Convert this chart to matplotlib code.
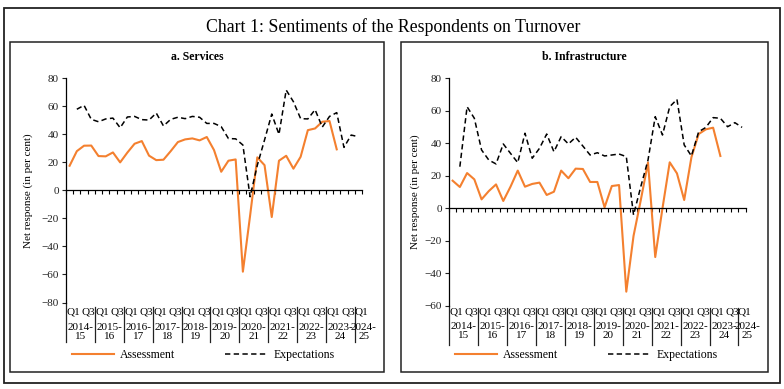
import matplotlib
matplotlib.use("Agg")
import matplotlib.pyplot as plt
import matplotlib.transforms as mtransforms
from matplotlib.patches import Rectangle
import numpy as np

plt.rcParams['font.family'] = ['Liberation Serif', 'DejaVu Serif']

# quarters: 2014-15 Q1 ... 2024-25 Q1 (41 quarters)
years = ["2014-\n15", "2015-\n16", "2016-\n17", "2017-\n18", "2018-\n19", "2019-\n20",
         "2020-\n21", "2021-\n22", "2022-\n23", "2023-\n24", "2024-\n25"]
n_q = 41

# Services: assessment from 2014-15 Q1, expectations from 2014-15 Q2
services_assess = [17.6, 28, 31.9, 32, 24.5, 24.3, 27.1, 20, 27, 33.3,
                   35.2, 24.8, 21.6, 21.9, 28, 34.5, 36.4, 37.1, 35.7, 38.1,
                   28.8, 13.3, 21.2, 22.1, -58, -18, 23.6, 18, -19, 21.2,
                   24.7, 15.5, 24, 43, 44.2, 49, 49.5, 29.3]
services_expect = [57.9, 60.7, 50.7, 49, 51, 51.6, 44.7, 52.4, 52.8, 50.5,
                   50.2, 55.2, 46, 50.7, 52.2, 51.2, 52.8, 52.2, 47.8, 47.8,
                   45.5, 37, 36.8, 32.4, -4.5, 18, 36, 54.5, 40, 71.6,
                   63.3, 51.2, 51, 57.6, 45.2, 52.8, 55.5, 30.7, 39.5, 38.3]

# Infrastructure
infra_assess = [17, 13.1, 21.7, 17.8, 5.5, 10.6, 14.7, 4.5, 13.3, 23.2,
                13.3, 15, 15.8, 8.2, 10.2, 23.2, 18.5, 24.4, 24.2, 16.2,
                16.2, 0.6, 13.7, 14.3, -51.3, -17, 5, 28.2, -30, 0,
                28.3, 21.5, 5.1, 31.4, 45.7, 48.6, 49.6, 32.2]
infra_expect = [25.6, 62.5, 55.4, 35.9, 29.7, 27.3, 39.6, 33.8, 28.1, 46.2,
                30.8, 36.9, 45.7, 34.8, 44.1, 39.6, 43.7, 38.3, 32.8, 34.2,
                32.2, 32.8, 33.4, 31.8, -4.1, 13.3, 29.7, 56.4, 45.1, 62.5,
                67, 39, 32.2, 47.1, 49.8, 55.8, 55.4, 50.2, 52.7, 49.8]

ORANGE = '#F4802F'
W, H = 784, 389

fig = plt.figure(figsize=(W / 100, H / 100), dpi=100)


def fy(px):
    return 1 - px / H


def fx(px):
    return px / W


# outer frame and panel boxes
fig.patches.append(Rectangle((fx(4), fy(383)), fx(776), 375 / H, transform=fig.transFigure,
                             fill=False, lw=1.3, ec='#222222'))
fig.text(fx(393), fy(27), "Chart 1: Sentiments of the Respondents on Turnover",
         ha='center', va='center', fontsize=12.8)


def panel(box, axrect, ylim, a, e, title, ylab_x, rows):
    bx0, by0, bx1, by1 = box
    fig.patches.append(Rectangle((fx(bx0), fy(by1)), fx(bx1 - bx0), (by1 - by0) / H,
                                 transform=fig.transFigure, fill=False, lw=1.1, ec='#222222'))
    fig.text(fx((bx0 + bx1) / 2), fy(57), title, ha='center', va='center',
             fontsize=8.5, fontweight='bold')

    x0, y0, x1, y1 = axrect
    ax = fig.add_axes([fx(x0), fy(y1), fx(x1 - x0), (y1 - y0) / H])
    xa = np.arange(len(a)) + 0.5
    xe = np.arange(1, len(e) + 1) + 0.5
    la, = ax.plot(xa, a, color=ORANGE, lw=1.5, label='Assessment')
    le, = ax.plot(xe, e, color='black', lw=1.1, ls=(0, (3.5, 2.2)), label='Expectations')

    ax.set_xlim(0, n_q)
    ax.set_ylim(*ylim)
    ax.set_yticks(np.arange(ylim[0], ylim[1] + 1, 20))
    ax.tick_params(axis='y', labelsize=8, length=3, width=0.8, pad=2, colors='#222222')
    for s in ['top', 'right']:
        ax.spines[s].set_visible(False)
    ax.spines['left'].set_linewidth(0.9)
    ax.spines['bottom'].set_position(('data', 0))
    ax.spines['bottom'].set_linewidth(0.9)
    ax.set_xticks(np.arange(n_q + 1))
    ax.tick_params(axis='x', direction='out', length=3, width=0.8, labelbottom=False)
    ax.set_ylabel("Net response (in per cent)", fontsize=8)
    ax.yaxis.set_label_coords(ylab_x, 0.5)

    # category labels below the plot
    q_y, yr1, sep_top, sep_bot = rows
    tr = mtransforms.blended_transform_factory(ax.transData, fig.transFigure)
    for k in range(10):
        ax.text(4 * k + 1.05, fy(q_y), "Q1", transform=tr, ha='center', va='center', fontsize=8)
        ax.text(4 * k + 3.1, fy(q_y), "Q3", transform=tr, ha='center', va='center', fontsize=8)
    ax.text(40.85, fy(q_y), "Q1", transform=tr, ha='center', va='center', fontsize=8)
    for k, lab in enumerate(years):
        cx = 4 * k + 2 if k < 10 else 41.25
        ax.text(cx, fy(yr1), lab, transform=tr, ha='center', va='top', fontsize=8,
                linespacing=0.95)
    ax.plot([0, 0], [fy(y1), fy(sep_bot)], transform=tr, color='#222222', lw=0.9, clip_on=False)
    for k in range(1, 11):
        ax.plot([4 * k, 4 * k], [fy(sep_top), fy(sep_bot)], transform=tr,
                color='#222222', lw=0.9, clip_on=False)
    return ax, la, le


axL, la, le = panel((10, 42, 384, 372), (66, 78.3, 362, 302.5), (-80, 80),
                    services_assess, services_expect, "a. Services", -0.111,
                    (312.5, 323, 307, 342))
axR, _, _ = panel((401, 42, 768, 372), (449, 78.3, 745.7, 305.8), (-60, 80),
                  infra_assess, infra_expect, "b. Infrastructure", -0.098,
                  (311.5, 322, 308, 345))

for cx in (203, 586):
    fig.legend([la, le], ['Assessment', 'Expectations'], loc='center',
               bbox_to_anchor=(fx(cx), fy(355)), ncol=2, frameon=False,
               fontsize=8.5, handlelength=3.6, columnspacing=4.2, handletextpad=0.5)

fig.savefig("out.png", dpi=100)
